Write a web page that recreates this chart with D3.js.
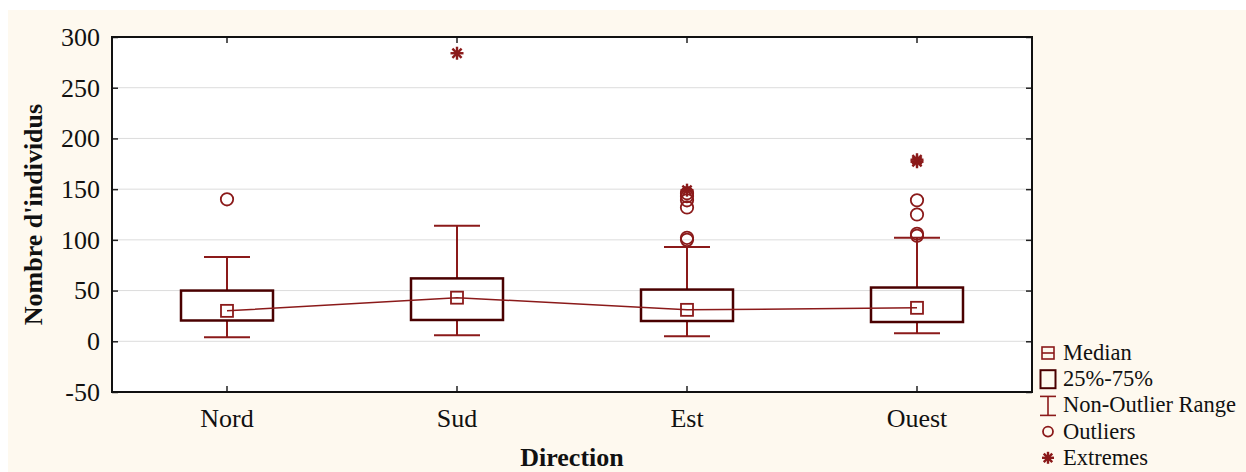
<!DOCTYPE html>
<html>
<head>
<meta charset="utf-8">
<script src="https://cdn.jsdelivr.net/npm/d3@7"></script>
<style>
  body { margin: 0; background: #fff; }
  svg { display: block; }
  svg text { font-family: "Liberation Serif", "DejaVu Serif", serif; }
</style>
</head>
<body>
<div id="chart"></div>
<script>
const categories = ["Nord", "Sud", "Est", "Ouest"];
const medians = [30, 43, 31, 33];
const q1 = [20.5, 21, 20, 19];
const q3 = [50, 62, 51, 53];
const whiskLow = [4, 6, 5, 8];
const whiskHigh = [83, 114, 93, 102];
const outliers = [[140], [], [100, 102, 132, 139, 143, 146], [104, 106, 125, 139]];
const extremes = [[], [284], [149], [177, 179]];
const yTicks = [-50, 0, 50, 100, 150, 200, 250, 300];
const legendItems = ["Median", "25%-75%", "Non-Outlier Range", "Outliers", "Extremes"];

const W = 1246, H = 472;
const margin = {left: 112, top: 37, right: 214, bottom: 80};
const pw = W - margin.left - margin.right;
const ph = H - margin.top - margin.bottom;
const red = "#8b1a1a", dark = "#4a0000";

const svg = d3.select("#chart").append("svg").attr("width", W).attr("height", H);
svg.append("rect").attr("x", 8).attr("y", 10).attr("width", W - 8).attr("height", H - 10).attr("fill", "#fef9ef");

const g = svg.append("g").attr("transform", `translate(${margin.left},${margin.top})`);
g.append("rect").attr("width", pw).attr("height", ph).attr("fill", "#fff");

const x = d3.scaleBand().domain(categories).range([0, pw]);
const y = d3.scaleLinear().domain([-50, 300]).range([ph, 0]);

// grid
g.append("g").selectAll("line").data(yTicks.slice(1, -1)).enter().append("line")
    .attr("x1", 0).attr("x2", pw).attr("y1", d => y(d)).attr("y2", d => y(d))
    .attr("stroke", "#dcdcdc").attr("stroke-width", 1);

const yAxis = g.append("g").call(d3.axisLeft(y).tickValues(yTicks).tickSize(-6).tickPadding(12).tickFormat(d => String(d)));
yAxis.selectAll("text").style("font-size", "26px").attr("fill", "#111");
const xAxis = g.append("g").attr("transform", `translate(0,${ph})`)
    .call(d3.axisBottom(x).tickSize(-6).tickPadding(16));
xAxis.selectAll("text").style("font-size", "26px").attr("fill", "#111").attr("y", 35).attr("dy", 0);
g.append("g").call(d3.axisTop(x).tickSize(-6).tickFormat(""));
g.append("g").attr("transform", `translate(${pw},0)`).call(d3.axisRight(y).tickValues(yTicks).tickSize(-6).tickFormat(""));
g.selectAll("g").attr("font-family", null);
g.selectAll(".domain").remove();
g.selectAll(".tick line").attr("stroke", "#222").attr("stroke-width", 1.5);
g.append("rect").attr("width", pw).attr("height", ph).attr("fill", "none")
    .attr("stroke", "#111").attr("stroke-width", 2);

const bw = x.bandwidth() * 0.4;
const cx = c => x(c) + x.bandwidth() / 2;

function asterisk(sel, r) {
    [0, 45, 90, 135].forEach(a => {
        const dx = r * Math.cos(a * Math.PI / 180), dy = r * Math.sin(a * Math.PI / 180);
        sel.append("line").attr("x1", -dx).attr("y1", -dy).attr("x2", dx).attr("y2", dy)
            .attr("stroke", red).attr("stroke-width", 2.4);
    });
}

categories.forEach((c, i) => {
    const xc = cx(c);
    // whiskers
    g.append("line").attr("x1", xc).attr("x2", xc).attr("y1", y(q3[i])).attr("y2", y(whiskHigh[i])).attr("stroke", red).attr("stroke-width", 2);
    g.append("line").attr("x1", xc).attr("x2", xc).attr("y1", y(q1[i])).attr("y2", y(whiskLow[i])).attr("stroke", red).attr("stroke-width", 2);
    [whiskHigh[i], whiskLow[i]].forEach(v => {
        g.append("line").attr("x1", xc - bw / 4).attr("x2", xc + bw / 4).attr("y1", y(v)).attr("y2", y(v)).attr("stroke", red).attr("stroke-width", 2);
    });
    g.append("rect").attr("x", xc - bw / 2).attr("width", bw)
        .attr("y", y(q3[i])).attr("height", y(q1[i]) - y(q3[i]))
        .attr("fill", "none").attr("stroke", dark).attr("stroke-width", 2.5);
});

// median line
g.append("path").datum(categories)
    .attr("d", d3.line().x(c => cx(c)).y((c, i) => y(medians[i])))
    .attr("fill", "none").attr("stroke", red).attr("stroke-width", 1.5);

categories.forEach((c, i) => {
    const xc = cx(c);
    g.append("rect").attr("x", xc - 6).attr("y", y(medians[i]) - 6).attr("width", 12).attr("height", 12)
        .attr("fill", "none").attr("stroke", red).attr("stroke-width", 1.8);
    outliers[i].forEach(v => {
        g.append("circle").attr("cx", xc).attr("cy", y(v)).attr("r", 6.2)
            .attr("fill", "none").attr("stroke", red).attr("stroke-width", 1.8);
    });
    extremes[i].forEach(v => {
        asterisk(g.append("g").attr("transform", `translate(${xc},${y(v)})`), 6.5);
    });
});

// titles
svg.append("text").attr("x", margin.left + pw / 2).attr("y", 466).attr("text-anchor", "middle")
    .style("font-size", "26px").style("font-weight", "bold").attr("fill", "#111").text("Direction");
svg.append("text").attr("transform", `translate(42,${margin.top + ph / 2}) rotate(-90)`)
    .attr("text-anchor", "middle").style("font-size", "26px").style("font-weight", "bold").attr("fill", "#111")
    .text("Nombre d'individus");

// legend
const lg = svg.append("g").attr("transform", "translate(1048,353)");
legendItems.forEach((t, i) => {
    const row = lg.append("g").attr("transform", `translate(0,${i * 26.2})`);
    if (i === 0) {
        row.append("rect").attr("x", -6).attr("y", -6).attr("width", 12).attr("height", 12).attr("fill", "none").attr("stroke", red).attr("stroke-width", 1.6);
        row.append("line").attr("x1", -6).attr("x2", 6).attr("y1", 0).attr("y2", 0).attr("stroke", red).attr("stroke-width", 1.6);
    } else if (i === 1) {
        row.append("rect").attr("x", -7.5).attr("y", -9).attr("width", 15).attr("height", 18).attr("fill", "none").attr("stroke", dark).attr("stroke-width", 2);
    } else if (i === 2) {
        row.append("line").attr("x1", 0).attr("x2", 0).attr("y1", -9).attr("y2", 10).attr("stroke", red).attr("stroke-width", 1.6);
        row.append("line").attr("x1", -8).attr("x2", 8).attr("y1", -9).attr("y2", -9).attr("stroke", red).attr("stroke-width", 1.6);
        row.append("line").attr("x1", -8).attr("x2", 8).attr("y1", 10).attr("y2", 10).attr("stroke", red).attr("stroke-width", 1.6);
    } else if (i === 3) {
        row.append("circle").attr("r", 5).attr("fill", "none").attr("stroke", red).attr("stroke-width", 1.8);
    } else {
        asterisk(row, 6);
    }
    row.append("text").attr("x", 15).attr("y", 7).style("font-size", "22.5px").attr("fill", "#111").text(t);
});
</script>
</body>
</html>
